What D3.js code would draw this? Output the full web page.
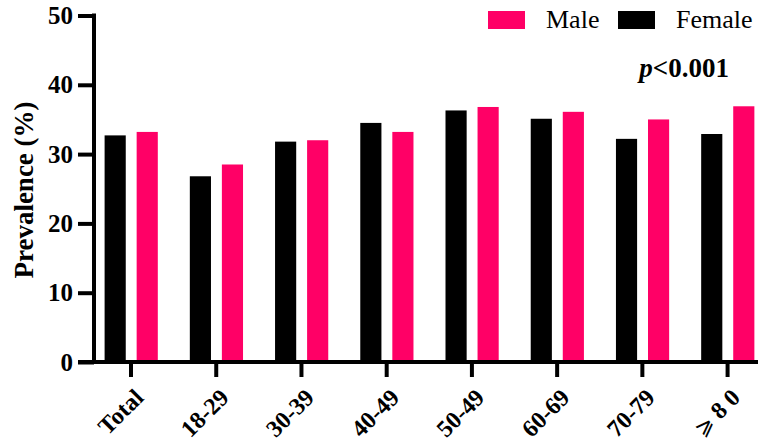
<!DOCTYPE html>
<html>
<head>
<meta charset="utf-8">
<script src="https://cdn.jsdelivr.net/npm/d3@7"></script>
<style>
  html, body { margin: 0; padding: 0; background: #fff; }
  svg { display: block; }
  text { font-family: "Liberation Serif", "Times New Roman", serif; }
</style>
</head>
<body>
<svg id="chart" width="758" height="443"></svg>
<script>
const categories = ["Total", "18-29", "30-39", "40-49", "50-49", "60-69", "70-79", "⩾ 8 0"];
const female = [32.7, 26.8, 31.8, 34.5, 36.3, 35.1, 32.2, 32.9];
const male   = [33.2, 28.5, 32.0, 33.2, 36.8, 36.1, 35.0, 36.9];
const yTicks = [0, 10, 20, 30, 40, 50];
const seriesNames = ["Female", "Male"];
const legendOrder = ["Male", "Female"];
const colors = { Female: "#000000", Male: "#FF0066" };

const svg = d3.select("#chart");
const W = 758, H = 443;
const axisX = 94, y0 = 362, yTop = 15.5;

const y = d3.scaleLinear().domain([0, 50]).range([y0, yTop]);
const x = d3.scaleBand().domain(categories).range([88.4, 770.2]);
const x1 = d3.scaleBand().domain(seriesNames).range([16.2, 69.4]).paddingInner(0.34);

const rows = categories.map((c, i) => ({ cat: c, Female: female[i], Male: male[i] }));

// bars
const g = svg.append("g");
const groups = g.selectAll("g.grp").data(rows).join("g")
  .attr("transform", d => `translate(${x(d.cat)},0)`);
groups.selectAll("rect").data(d => seriesNames.map(s => ({ s, v: d[s] }))).join("rect")
  .attr("x", d => x1(d.s))
  .attr("width", x1.bandwidth())
  .attr("y", d => y(d.v))
  .attr("height", d => y0 - y(d.v))
  .attr("fill", d => colors[d.s]);

// y axis
const yAxis = svg.append("g").attr("transform", `translate(${axisX},0)`)
  .call(d3.axisLeft(y).tickValues(yTicks).tickSize(16).tickSizeOuter(0).tickPadding(5));
yAxis.select(".domain").attr("stroke-width", 4).attr("d", `M0,${yTop - 2}V${y0 + 2}`);
yAxis.selectAll(".tick line").attr("stroke-width", 4);
yAxis.selectAll(".tick text").attr("font-size", 25).attr("font-weight", "bold")
  .attr("font-family", "Liberation Serif, serif").attr("fill", "#000");

// x axis
const xAxis = svg.append("g").attr("transform", `translate(0,${y0})`)
  .call(d3.axisBottom(x).tickSize(15).tickSizeOuter(0).tickFormat(""));
xAxis.select(".domain").remove();
xAxis.append("line").attr("x1", 78).attr("x2", W).attr("y1", 0).attr("y2", 0)
  .attr("stroke", "#000").attr("stroke-width", 4);
xAxis.selectAll(".tick line").attr("stroke-width", 4);
const xt = xAxis.selectAll(".tick").append("text")
  .attr("transform", "translate(8,31) rotate(-45)")
  .attr("text-anchor", "end")
  .attr("dy", "0.35em")
  .attr("font-size", 24).attr("font-weight", "bold").attr("fill", "#000")
  .attr("font-family", "Liberation Serif, serif");
xt.each(function(d) {
  const t = d3.select(this);
  if (d.startsWith("⩾")) {
    t.append("tspan").attr("font-weight", "normal").attr("font-family", "DejaVu Sans, sans-serif")
      .attr("font-size", 22).text(d.slice(0, 1));
    t.append("tspan").text(d.slice(1));
  } else {
    t.text(d);
  }
});

// y title
svg.append("text")
  .attr("transform", `translate(33,190) rotate(-90)`)
  .attr("text-anchor", "middle")
  .attr("font-size", 27).attr("font-weight", "bold")
  .text("Prevalence (%)");

// legend
const legX = { Male: 488, Female: 618 };
const leg = svg.append("g");
legendOrder.forEach(s => {
  leg.append("rect").attr("x", legX[s]).attr("y", 11).attr("width", 37).attr("height", 18).attr("fill", colors[s]);
  leg.append("text").attr("x", legX[s] + 58).attr("y", 28).attr("font-size", 26).text(s);
});

// p value
const pt = svg.append("text").attr("x", 729).attr("y", 77).attr("text-anchor", "end")
  .attr("font-size", 27).attr("font-weight", "bold");
pt.append("tspan").attr("font-style", "italic").text("p");
pt.append("tspan").text("<0.001");
</script>
</body>
</html>
